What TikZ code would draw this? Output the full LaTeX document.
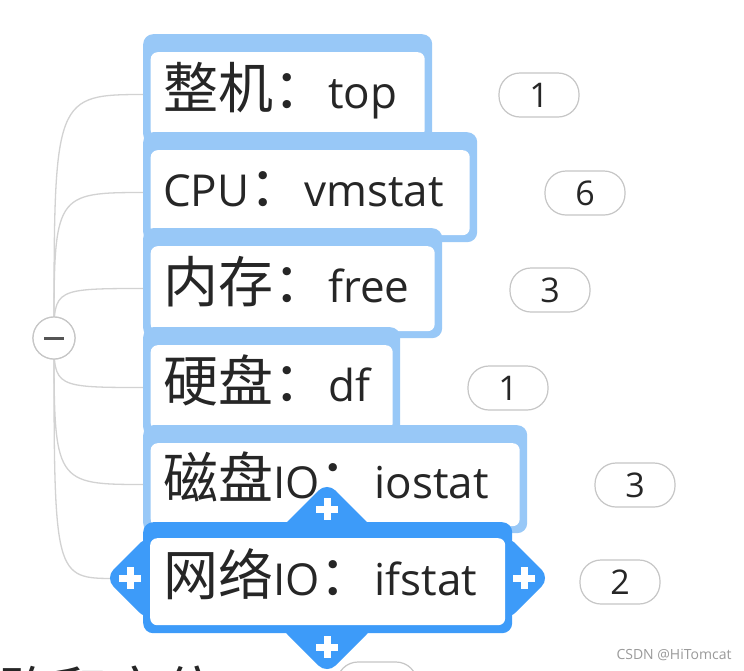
\documentclass[tikz,border=0pt]{standalone}
\usepackage{fontspec}
\setmainfont{Open Sans}
\newfontfamily\cjkfont{Noto Sans CJK SC}
\usetikzlibrary{calc}
\definecolor{lightfr}{HTML}{98C8F7}
\definecolor{darkfr}{HTML}{3D9BF9}
\definecolor{connc}{HTML}{D2D2D2}
\definecolor{pillc}{HTML}{C6C6C6}
\definecolor{txtc}{HTML}{262626}
\definecolor{minusc}{HTML}{555555}
\definecolor{wmc}{HTML}{9A9A9A}
\newcommand\zhtxt[1]{{\cjkfont\fontsize{55}{55}\selectfont #1}}
\tikzset{
 mmframe/.style={fill=lightfr, rounded corners=10, inner sep=0, minimum height=110, anchor=north west},
 mmselframe/.style={mmframe, fill=darkfr},
 mminner/.style={fill=white, rounded corners=7, inner sep=0, minimum height=85, anchor=north west},
 mmtext/.style={anchor=base west, inner sep=0, text=txtc, font=\fontsize{44}{44}\selectfont},
 mmpill/.style={draw=pillc, line width=1.2, fill=white, rounded corners=21, minimum width=80, minimum height=44, inner sep=0, text=txtc, font=\fontsize{34}{34}\selectfont},
 mmconn/.style={draw=connc, line width=1.3},
 mmtab/.style={fill=darkfr, rounded corners=12},
 mmplus/.style={draw=white, line width=7},
}
\begin{document}
\begin{tikzpicture}[x=1pt,y=-1pt]
\useasboundingbox (0,0) rectangle (744,670);
\clip (0,0) rectangle (744,670);
\fill[white] (0,0) rectangle (744,670);

% collapse circle
\node[circle, draw=pillc, fill=white, line width=1.2, minimum size=42, inner sep=0] (cc) at (54,338) {};

% connector end points (hidden under the frames)
\coordinate (e1) at (147,94.5);
\coordinate (e2) at (147,192.5);
\coordinate (e3) at (147,288.5);
\coordinate (e4) at (147,387.5);
\coordinate (e5) at (147,484.5);
\coordinate (e6) at (116,578.5);

\foreach \e in {e1,e2,e3,e4,e5,e6}{
  \draw[mmconn] (cc.center) .. controls (cc |- \e) and (cc |- \e) .. (\e);
}
\node[circle, draw=pillc, fill=white, line width=1.2, minimum size=42, inner sep=0] (cc2) at (cc) {};
\draw[minusc, line width=3] ($(cc2.center)+(-10,0.5)$) -- ($(cc2.center)+(10,0.5)$);

% count pills
\node[mmpill] (p1) at (539,95) {1};
\node[mmpill] (p2) at (585,193) {6};
\node[mmpill] (p3) at (550,290) {3};
\node[mmpill] (p4) at (508,388) {1};
\node[mmpill] (p5) at (635,485) {3};
\node[mmpill] (p6) at (620,582) {2};
\node[mmpill] (p7) at (377,684) {};

% box 1
\node[mmframe, minimum width=289] (f1) at (143,34) {};
\node[mminner, minimum width=274] (w1) at (150.5,52) {};
\node[mmtext] (t1) at (163,108.5) {\zhtxt{整机：}top};
% box 2
\node[mmframe, minimum width=334] (f2) at (143,132) {};
\node[mminner, minimum width=319] (w2) at (150.5,150) {};
\node[mmtext] (t2) at (163,206.5) {CPU\zhtxt{：}vmstat};
% box 3
\node[mmframe, minimum width=299] (f3) at (143,228) {};
\node[mminner, minimum width=284] (w3) at (150.5,246) {};
\node[mmtext] (t3) at (163,302.5) {\zhtxt{内存：}free};
% box 4
\node[mmframe, minimum width=257] (f4) at (143,327) {};
\node[mminner, minimum width=242] (w4) at (150.5,345) {};
\node[mmtext] (t4) at (163,401.5) {\zhtxt{硬盘：}df};
% box 5
\node[mmframe, minimum width=384, minimum height=108] (f5) at (143,425) {};
\node[mminner, minimum width=369, minimum height=83] (w5) at (150.5,443) {};
\node[mmtext] (t5) at (163,498.5) {\zhtxt{磁盘}IO\zhtxt{：}iostat};
% box 6 (selected)
\node[mmselframe, minimum width=369, minimum height=111] (f6) at (143,522) {};
\fill[mmtab] (279,530) -- (327,482) -- (375,530) -- cycle;
\fill[mmtab] (279,626) -- (327,674) -- (375,626) -- cycle;
\fill[mmtab] (148,535) -- (105,578) -- (148,621) -- cycle;
\fill[mmtab] (507,535) -- (550,578) -- (507,621) -- cycle;
\node[mminner, minimum width=355, minimum height=87] (w6) at (150,538) {};
\node[mmtext] (t6) at (163,595) {\zhtxt{网络}IO\zhtxt{：}ifstat};
\draw[mmplus] (316,509) -- (338,509) (327,498) -- (327,520);
\draw[mmplus] (316,647) -- (338,647) (327,636) -- (327,658);
\draw[mmplus] (119,578) -- (141,578) (130,567) -- (130,589);
\draw[mmplus] (513,578) -- (535,578) (524,567) -- (524,589);

% text cut off by the bottom edge, as in the reference
\node[anchor=base west, inner sep=0, text=txtc] (bt) at (-2,712) {\zhtxt{路和定位}};

% watermark
\node[inner sep=0, text=wmc, font=\fontsize{14}{14}\selectfont] (wm) at (674,655) {CSDN @HiTomcat};
\end{tikzpicture}
\end{document}
